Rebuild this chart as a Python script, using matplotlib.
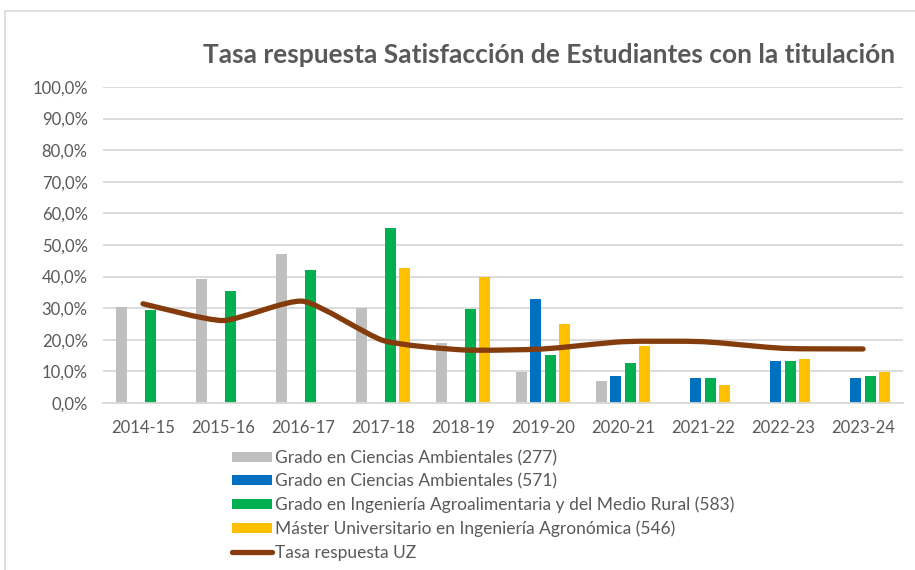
import numpy as np
import matplotlib
matplotlib.use("Agg")
import matplotlib.pyplot as plt
from matplotlib.patches import Patch, Rectangle, PathPatch
from matplotlib.lines import Line2D
from matplotlib.path import Path
from matplotlib.ticker import FuncFormatter

plt.rcParams['font.family'] = ['Lato', 'DejaVu Sans']

years = ['2014-15', '2015-16', '2016-17', '2017-18', '2018-19',
         '2019-20', '2020-21', '2021-22', '2022-23', '2023-24']
nan = np.nan
ciencias_277 = [30.5, 39.2, 47.3, 30.2, 19.0, 9.8, 7.1, nan, nan, nan]
ciencias_571 = [nan, nan, nan, nan, nan, 32.9, 8.4, 8.0, 13.3, 8.0]
agro_583 = [29.5, 35.4, 42.0, 55.4, 29.8, 15.1, 12.7, 8.0, 13.3, 8.6]
master_546 = [nan, nan, nan, 42.6, 39.9, 24.9, 18.1, 5.8, 13.9, 9.9]
tasa_uz = [31.4, 26.1, 32.2, 19.8, 16.8, 17.1, 19.4, 19.4, 17.3, 17.1]

series = [
    ("Grado en Ciencias Ambientales (277)", ciencias_277, "#BFBFBF"),
    ("Grado en Ciencias Ambientales (571)", ciencias_571, "#0070C0"),
    ("Grado en Ingeniería Agroalimentaria y del Medio Rural (583)", agro_583, "#00B050"),
    ("Máster Universitario en Ingeniería Agronómica (546)", master_546, "#FFC000"),
]
line_color = "#843C0C"
text_color = "#595959"

fig = plt.figure(figsize=(9.15, 5.7), dpi=100)
# chart border
fig.patches.append(Rectangle((5 / 915, -0.1), 1.2, (570 - 11) / 570 + 0.1,
                             transform=fig.transFigure, fill=False,
                             edgecolor="#D9D9D9", lw=1.2))

ax = fig.add_axes([103 / 915, (570 - 403) / 570, 800 / 915, 316 / 570])
x = np.arange(len(years))
step = 0.18
width = 0.1375
for i, (name, vals, col) in enumerate(series):
    ax.bar(x + (i - 1.5) * step, vals, width=width, color=col, zorder=2)

# smoothed line (Excel-style), Bezier through the data points
pts = np.column_stack([x, tasa_uz])
verts = [tuple(pts[0])]
codes = [Path.MOVETO]
n = len(pts)
k = 10
for i in range(n - 1):
    p0 = pts[max(i - 1, 0)]
    p1 = pts[i]
    p2 = pts[i + 1]
    p3 = pts[min(i + 2, n - 1)]
    c1 = p1 + (p2 - p0) / k
    c2 = p2 - (p3 - p1) / k
    verts += [tuple(c1), tuple(c2), tuple(p2)]
    codes += [Path.CURVE4] * 3
ax.add_patch(PathPatch(Path(verts, codes), fill=False, edgecolor=line_color,
                       lw=3.8, capstyle='round', joinstyle='round', zorder=3))

ax.set_xlim(-0.5, len(years) - 0.5)
ax.set_ylim(0, 100)
ax.set_yticks(np.arange(0, 101, 10))
ax.yaxis.set_major_formatter(FuncFormatter(lambda v, p: f"{v:.1f}%".replace(".", ",")))
ax.set_xticks(x)
ax.set_xticklabels(years)
ax.grid(axis='y', color="#D9D9D9", lw=1.3, zorder=0)
ax.set_axisbelow(True)
for s in ['top', 'right', 'left']:
    ax.spines[s].set_visible(False)
ax.spines['bottom'].set_color("#D9D9D9")
ax.spines['bottom'].set_linewidth(1.3)
ax.tick_params(axis='both', length=0, colors=text_color, labelsize=12)
ax.tick_params(axis='y', pad=11)
ax.tick_params(axis='x', pad=12)

fig.text(549 / 915, (570 - 55) / 570,
         "Tasa respuesta Satisfacción de Estudiantes con la titulación",
         ha='center', va='center', fontsize=19, fontweight='bold', color=text_color)

handles = [Patch(facecolor=c, edgecolor='none') for _, _, c in series]
handles.append(Line2D([0], [0], color=line_color, lw=3.8, solid_capstyle='round'))
labels = [s[0] for s in series] + ["Tasa respuesta UZ"]
leg = fig.legend(handles, labels, loc='upper left',
                 bbox_to_anchor=(232 / 915, (570 - 450) / 570),
                 frameon=False, fontsize=12.5, handlelength=2.3, handleheight=0.5,
                 handletextpad=0.15, labelspacing=0.42, borderpad=0, borderaxespad=0)
for t in leg.get_texts():
    t.set_color(text_color)

fig.savefig("out.png", dpi=100)
